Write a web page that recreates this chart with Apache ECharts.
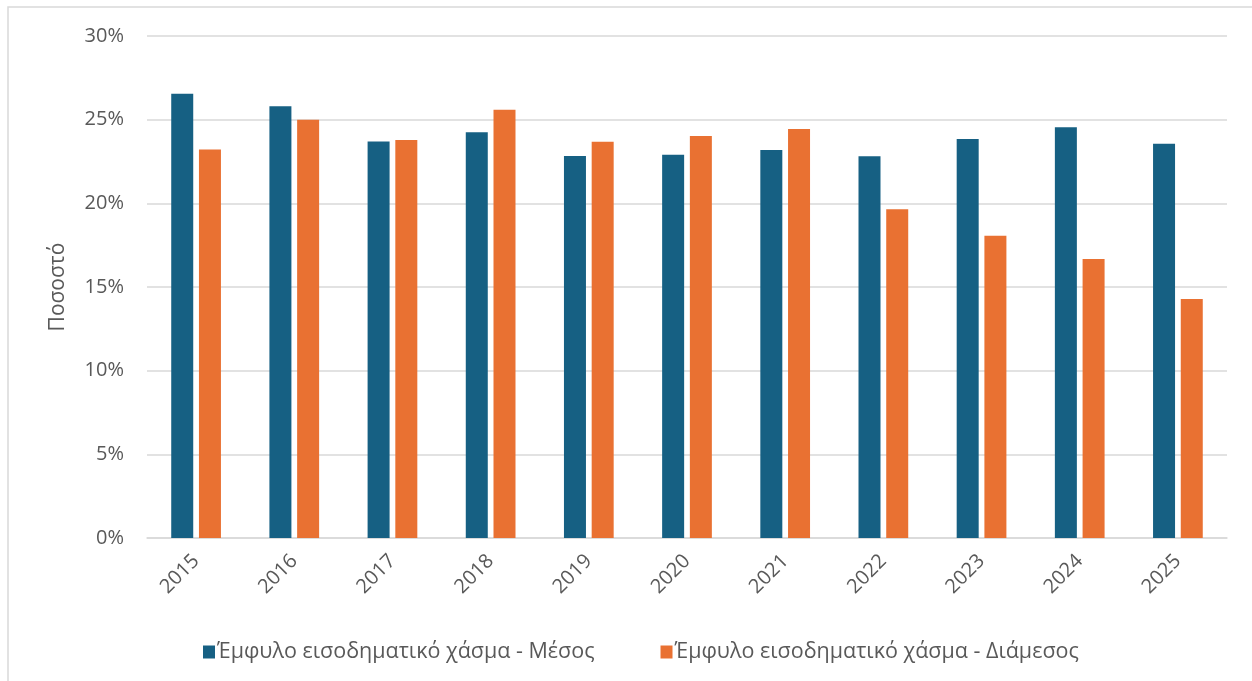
<!DOCTYPE html>
<html>
<head>
<meta charset="utf-8">
<script src="https://cdn.jsdelivr.net/npm/echarts@6/dist/echarts.min.js"></script>
<style>
  html, body { margin: 0; padding: 0; background: #fff; }
  #chart { width: 1252px; height: 681px; }
</style>
</head>
<body>
<div id="chart"></div>
<script>
// δεδομένα
var years = ['2015', '2016', '2017', '2018', '2019', '2020', '2021', '2022', '2023', '2024', '2025'];
var meanGap = [26.55, 25.80, 23.70, 24.25, 22.83, 22.90, 23.18, 22.82, 23.84, 24.55, 23.56];
var medianGap = [23.21, 25.00, 23.79, 25.60, 23.68, 24.02, 24.44, 19.64, 18.07, 16.67, 14.28];
var seriesNames = ['Έμφυλο εισοδηματικό χάσμα - Μέσος', 'Έμφυλο εισοδηματικό χάσμα - Διάμεσος'];

var FONT = '"Open Sans", "Noto Sans", sans-serif';
var TXT = '#595959';
var GRID = '#d9d9d9';

var chart = echarts.init(document.getElementById('chart'));

var option = {
  animation: false,
  color: ['#166083', '#E97132'],
  textStyle: { fontFamily: FONT },
  graphic: [{
    type: 'rect',
    shape: { x: 8, y: 7, width: 1270, height: 700 },
    style: { fill: 'none', stroke: GRID, lineWidth: 1.5 },
    silent: true,
    z: -1
  }],
  grid: {
    left: 147,
    right: 25,
    top: 36,
    bottom: 143
  },
  legend: {
    left: 198,
    top: 636,
    itemWidth: 12,
    itemHeight: 13,
    itemGap: 66,
    icon: 'rect',
    textStyle: { color: TXT, fontSize: 21.5, fontFamily: FONT, padding: [0, 0, 0, -3] },
    data: seriesNames
  },
  xAxis: {
    type: 'category',
    data: years,
    axisLine: { lineStyle: { color: GRID, width: 1.5 } },
    axisTick: { show: false },
    axisLabel: {
      color: TXT,
      fontSize: 20,
      rotate: 45,
      margin: 20
    }
  },
  yAxis: {
    type: 'value',
    min: 0,
    max: 30,
    interval: 5,
    name: 'Ποσοστό',
    nameLocation: 'middle',
    nameGap: 78,
    nameRotate: 90,
    nameTextStyle: { color: TXT, fontSize: 21, fontFamily: FONT },
    axisLine: { show: false },
    axisTick: { show: false },
    axisLabel: {
      color: TXT,
      fontSize: 20,
      margin: 23,
      formatter: '{value}%'
    },
    splitLine: { lineStyle: { color: GRID, width: 1.5 } }
  },
  series: [
    {
      name: seriesNames[0],
      type: 'bar',
      data: meanGap,
      barWidth: 22,
      barGap: '26%'
    },
    {
      name: seriesNames[1],
      type: 'bar',
      data: medianGap,
      barWidth: 22
    }
  ]
};

chart.setOption(option);
</script>
</body>
</html>
